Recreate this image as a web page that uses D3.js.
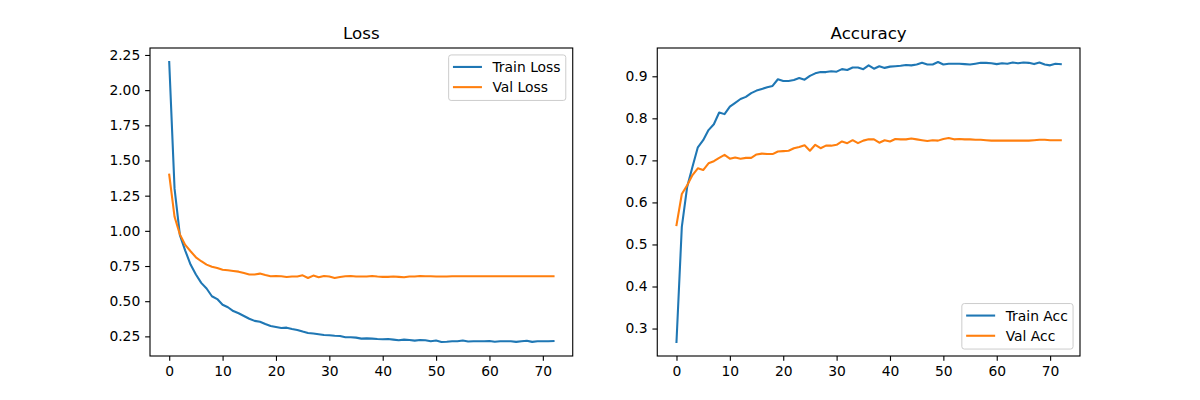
<!DOCTYPE html>
<html>
<head>
<meta charset="utf-8">
<script src="https://cdn.jsdelivr.net/npm/d3@7"></script>
<style>
  html, body { margin: 0; padding: 0; background: #fff; }
  svg { display: block; }
  text { font-family: "DejaVu Sans", sans-serif; }
</style>
</head>
<body>
<svg id="chart" width="1200" height="400"></svg>
<script>
const epochs = d3.range(0, 73);

const trainLoss = [2.20,1.30,0.97,0.86,0.76,0.69,0.63,0.59,0.535,0.515,
  0.475,0.457,0.43,0.414,0.395,0.375,0.36,0.354,0.338,0.324,
  0.317,0.31,0.312,0.303,0.296,0.284,0.274,0.27,0.265,0.26,
  0.258,0.255,0.253,0.244,0.244,0.241,0.234,0.236,0.234,0.231,
  0.229,0.231,0.227,0.222,0.227,0.224,0.22,0.224,0.222,0.215,
  0.22,0.21,0.212,0.215,0.215,0.22,0.213,0.215,0.215,0.215,
  0.217,0.212,0.215,0.215,0.215,0.211,0.215,0.219,0.211,0.215,
  0.215,0.215,0.217];

const valLoss = [1.40,1.10,0.975,0.90,0.855,0.812,0.784,0.76,0.745,0.736,
  0.724,0.72,0.715,0.71,0.70,0.69,0.69,0.696,0.686,0.677,
  0.679,0.677,0.672,0.675,0.675,0.684,0.665,0.682,0.67,0.679,
  0.675,0.665,0.672,0.677,0.679,0.675,0.675,0.675,0.679,0.675,
  0.673,0.673,0.675,0.673,0.67,0.675,0.675,0.679,0.677,0.677,
  0.676,0.676,0.676,0.677,0.677,0.677,0.677,0.677,0.677,0.677,
  0.677,0.677,0.677,0.677,0.677,0.677,0.677,0.677,0.677,0.677,
  0.677,0.677,0.677];

const trainAcc = [0.268,0.542,0.637,0.685,0.731,0.748,0.772,0.786,0.814,0.81,
  0.828,0.837,0.846,0.851,0.86,0.866,0.87,0.874,0.877,0.893,
  0.889,0.889,0.891,0.896,0.892,0.901,0.907,0.91,0.91,0.912,
  0.911,0.917,0.915,0.921,0.921,0.917,0.926,0.918,0.924,0.92,
  0.923,0.924,0.925,0.927,0.926,0.928,0.932,0.928,0.928,0.934,
  0.928,0.93,0.93,0.93,0.929,0.928,0.93,0.932,0.932,0.931,
  0.929,0.931,0.93,0.933,0.931,0.933,0.932,0.929,0.933,0.928,
  0.926,0.93,0.929];

const valAcc = [0.546,0.62,0.641,0.665,0.681,0.677,0.693,0.698,0.706,0.713,
  0.704,0.707,0.704,0.706,0.706,0.714,0.716,0.715,0.715,0.721,
  0.722,0.723,0.729,0.732,0.736,0.723,0.737,0.729,0.735,0.735,
  0.737,0.745,0.741,0.748,0.741,0.747,0.75,0.75,0.742,0.748,
  0.745,0.751,0.75,0.75,0.752,0.75,0.748,0.746,0.748,0.747,
  0.751,0.753,0.75,0.751,0.75,0.75,0.749,0.749,0.748,0.747,
  0.747,0.747,0.747,0.747,0.747,0.747,0.747,0.748,0.749,0.749,
  0.748,0.748,0.748];

const xTicks = [0,10,20,30,40,50,60,70];
const lossTicks = [0.25,0.50,0.75,1.00,1.25,1.50,1.75,2.00,2.25];
const accTicks = [0.3,0.4,0.5,0.6,0.7,0.8,0.9];

const panels = [
  { title: "Loss", series: [["Train Loss", trainLoss], ["Val Loss", valLoss]],
    yTicks: lossTicks, fmt: d3.format(".2f"), legend: "upper right", left: 150 },
  { title: "Accuracy", series: [["Train Acc", trainAcc], ["Val Acc", valAcc]],
    yTicks: accTicks, fmt: d3.format(".1f"), legend: "lower right", left: 657.27 }
];

const colors = ["#1f77b4", "#ff7f0e"];
const svg = d3.select("#chart");
const W = 422.73, plotTop = 48, plotBottom = 356, H = plotBottom - plotTop;
const fs = 13.89;
const tickLen = 4.86, tickPad = 4.86;

panels.forEach(p => {
  const g = svg.append("g").attr("transform", `translate(${p.left},${plotTop})`);
  const xr = [0, 72], xp = (xr[1] - xr[0]) * 0.05;
  const x = d3.scaleLinear().domain([xr[0] - xp, xr[1] + xp]).range([0, W]);
  const all = p.series.flatMap(s => s[1]);
  const [mn, mx] = d3.extent(all), yp = (mx - mn) * 0.05;
  const y = d3.scaleLinear().domain([mn - yp, mx + yp]).range([H, 0]);

  const xa = g.append("g").attr("transform", `translate(0,${H})`)
    .call(d3.axisBottom(x).tickValues(xTicks).tickSize(tickLen).tickPadding(tickPad).tickSizeOuter(0));
  const ya = g.append("g")
    .call(d3.axisLeft(y).tickValues(p.yTicks).tickFormat(p.fmt).tickSize(tickLen).tickPadding(tickPad).tickSizeOuter(0));
  [xa, ya].forEach(a => {
    a.select(".domain").remove();
    a.selectAll("line").attr("stroke", "#000").attr("stroke-width", 1.11);
    a.selectAll("text").attr("font-size", fs).attr("fill", "#000")
      .attr("font-family", "DejaVu Sans, sans-serif");
  });

  const line = d3.line().x((d, i) => x(epochs[i])).y(d => y(d));
  p.series.forEach((s, k) => {
    g.append("path").datum(s[1]).attr("d", line)
      .attr("fill", "none").attr("stroke", colors[k])
      .attr("stroke-width", 2.08).attr("stroke-linejoin", "round").attr("stroke-linecap", "square");
  });

  g.append("rect").attr("x", 0).attr("y", 0).attr("width", W).attr("height", H)
    .attr("fill", "none").attr("stroke", "#000").attr("stroke-width", 1.11);

  g.append("text").attr("x", W / 2).attr("y", -8.8).attr("text-anchor", "middle")
    .attr("font-size", 16.67).attr("fill", "#000").text(p.title);

  // legend
  const lg = g.append("g");
  const frame = lg.append("rect");
  const texts = p.series.map((s, k) => lg.append("text").attr("font-size", fs).attr("fill", "#000").text(s[0]));
  const tw = d3.max(texts, t => t.node().getComputedTextLength());
  const padL = 4.3, hLen = 29, hGap = 10.5, padR = 5.2;
  const bw = padL + hLen + hGap + tw + padR, bh = 45.5;
  const bx = W - 6.94 - bw;
  const by = p.legend === "upper right" ? 6.94 : H - 6.94 - bh;
  frame.attr("x", bx).attr("y", by).attr("width", bw).attr("height", bh)
    .attr("rx", 2.5).attr("fill", "#fff").attr("fill-opacity", 0.8)
    .attr("stroke", "#cccccc").attr("stroke-width", 1);
  p.series.forEach((s, k) => {
    const ry = by + 12 + k * 20.2;
    lg.append("line").attr("x1", bx + padL).attr("x2", bx + padL + hLen)
      .attr("y1", ry).attr("y2", ry).attr("stroke", colors[k]).attr("stroke-width", 2.08);
    texts[k].attr("x", bx + padL + hLen + hGap).attr("y", ry).attr("dy", "0.36em");
  });
});
</script>
</body>
</html>
